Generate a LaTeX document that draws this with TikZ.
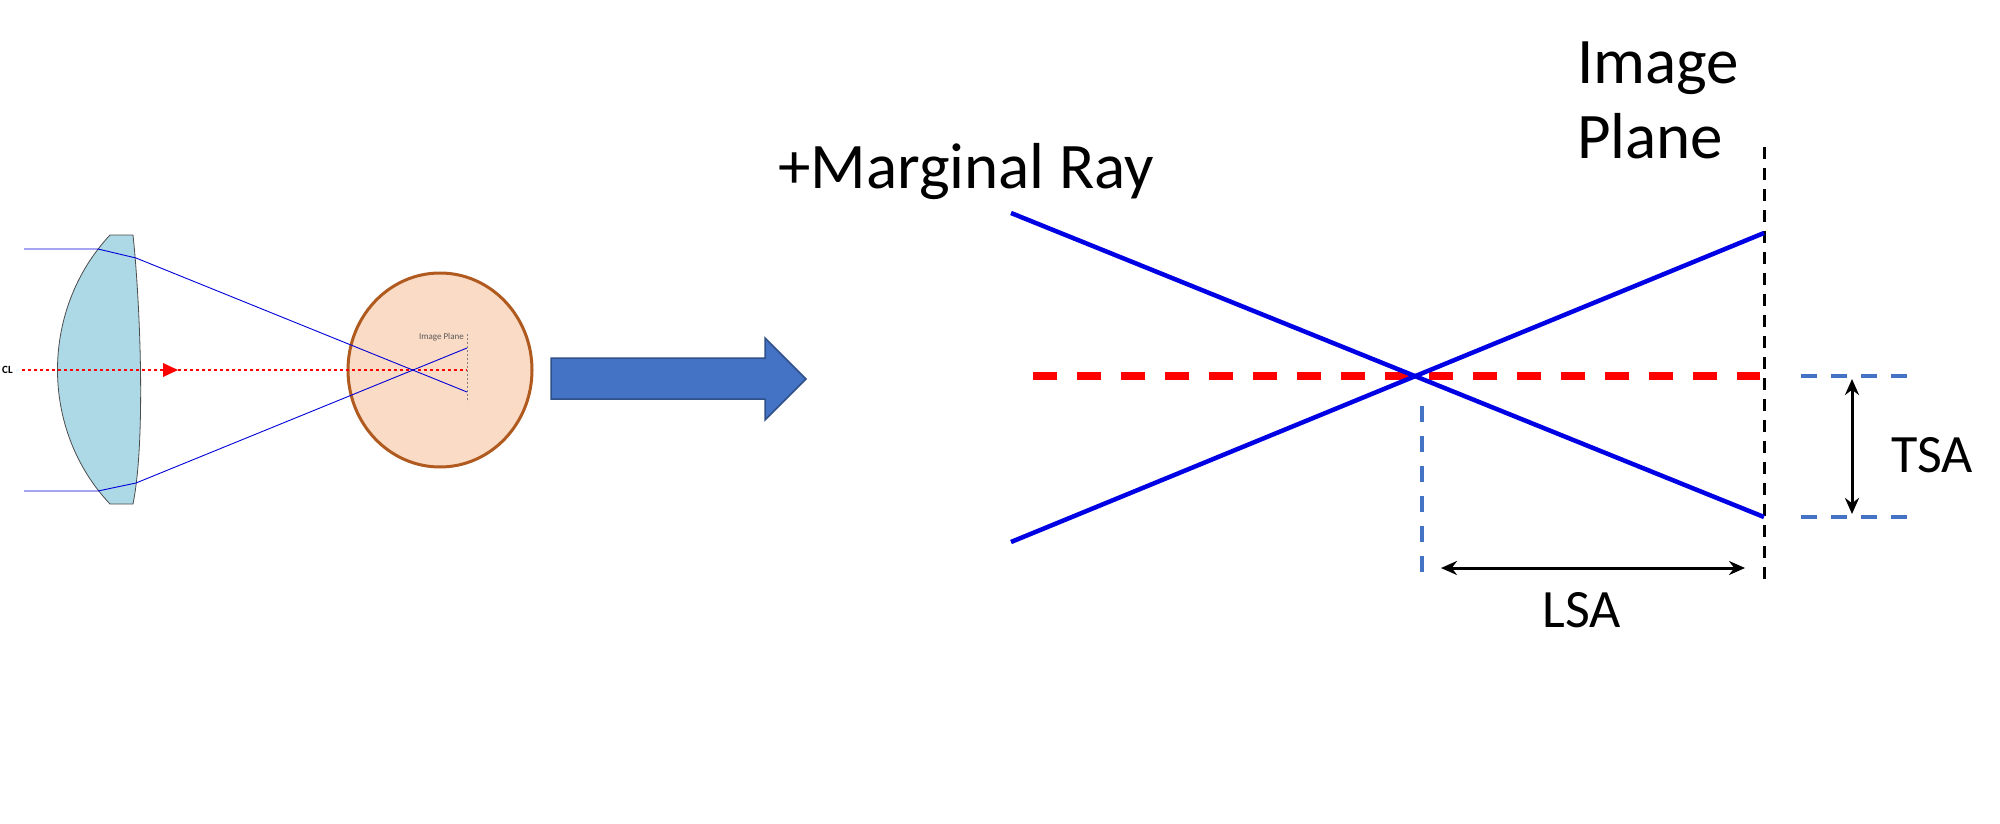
\documentclass[tikz,border=0pt]{standalone}
\usepackage{fontspec}
\setmainfont{Carlito}
\usetikzlibrary{arrows.meta}
\begin{document}
\begin{tikzpicture}[x=1pt,y=-1pt,
  ray/.style={blue!85!black,line width=0.9pt},
  bigray/.style={blue!90!black,line width=4.5pt},
  bdash/.style={draw=blueish,line width=3.5pt,dash pattern=on 16pt off 14pt},
  dim/.style={line width=3pt,{Stealth[length=16pt,width=14pt]}-{Stealth[length=16pt,width=14pt]}},
  big/.style={font=\fontsize{65}{76}\selectfont,inner sep=0pt},
  mid/.style={font=\fontsize{54}{60}\selectfont,inner sep=0pt}]
\definecolor{blueish}{HTML}{4472C4}
\definecolor{lens}{HTML}{ADD8E6}
\definecolor{peach}{HTML}{FADBC5}
\definecolor{rim}{HTML}{B05A20}
\useasboundingbox (0,0) rectangle (2000,824);
% ---- left small diagram
\draw[fill=lens,draw=black!70,line width=0.8pt] (110,235) -- (133,235) .. controls (140,300) and (146,440) .. (133,504) -- (110,504)
  .. controls (40,430) and (40,310) .. (110,235) -- cycle;
\draw[fill=peach,draw=rim,line width=3pt] (440,370) ellipse [x radius=92,y radius=97];
\draw[red,line width=1.2pt,dash pattern=on 3pt off 3pt] (22,370) -- (467,370);
\fill[red] (163,363) -- (178,370) -- (163,377) -- cycle;
\node[font=\bfseries\fontsize{11}{12}\selectfont,inner sep=0pt,anchor=west] (cl) at (2,370) {CL};
\draw[gray,line width=1pt,dash pattern=on 2pt off 2pt] (467,334) -- (467,402);
\node[font=\fontsize{9}{10}\selectfont,text=black!65,inner sep=0pt,anchor=east] (ipl) at (464,337) {Image Plane};
\coordinate (a1) at (24,249); \coordinate (a2) at (98,249); \coordinate (a3) at (136,258); \coordinate (a4) at (467,392);
\coordinate (b1) at (24,491); \coordinate (b2) at (98,491); \coordinate (b3) at (136,483); \coordinate (b4) at (467,348);
\draw[ray] (a1) -- (a2) -- (a3) -- (a4);
\draw[ray] (b1) -- (b2) -- (b3) -- (b4);
% ---- block arrow
\draw[fill=blueish,draw=blueish!70!black,line width=1.5pt] (551,358) -- (765,358) -- (765,338) -- (806,379) -- (765,420) -- (765,399) -- (551,399) -- cycle;
% ---- right diagram
\coordinate (r1) at (1011,213); \coordinate (r2) at (1764,517);
\coordinate (s1) at (1011,542); \coordinate (s2) at (1764,233);
\coordinate (ipt) at (1764,147); \coordinate (ipb) at (1764,584);
\draw[black,line width=3pt,dash pattern=on 12pt off 9pt] (ipt) -- (ipb);
\draw[red,line width=8pt,dash pattern=on 24pt off 20pt] (1033,376) -- (1760,376);
\draw[bigray] (r1) -- (r2);
\draw[bigray] (s1) -- (s2);
\draw[bdash] (1422,406) -- (1422,580);
\draw[bdash] (1801,376) -- (1911,376);
\draw[bdash] (1801,517) -- (1911,517);
\coordinate (t1) at (1852,379); \coordinate (t2) at (1852,514);
\draw[dim] (t1) -- (t2);
\coordinate (l1) at (1441,568); \coordinate (l2) at (1745,568);
\draw[dim] (l1) -- (l2);
\node[mid] (tsa) at (1932,455) {TSA};
\node[mid] (lsa) at (1582,610) {LSA};
\node[big,anchor=base west] (mr) at (778,188) {+Marginal Ray};
\node[big,anchor=base west,align=left] (ip) at (1577,159) {Image\\Plane};
\end{tikzpicture}
\end{document}
